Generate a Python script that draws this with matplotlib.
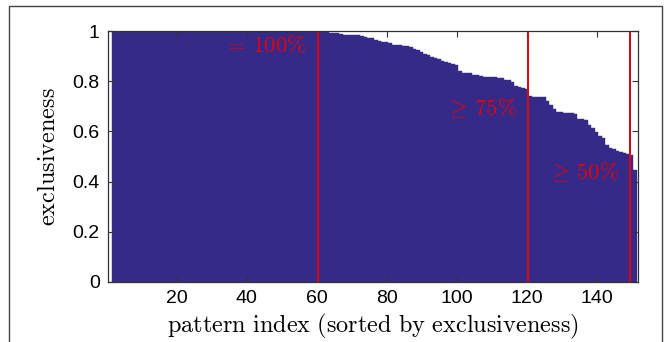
import numpy as np
import matplotlib
matplotlib.use("Agg")
import matplotlib.pyplot as plt
from matplotlib.patches import Rectangle

plt.rcParams['mathtext.fontset'] = 'cm'
plt.rcParams['font.family'] = ['Liberation Sans', 'DejaVu Sans']

# exclusiveness per pattern (sorted), patterns 2..151
first_idx = 2
excl = [1.0] * 59 + [
    0.997, 0.996, 0.995, 0.994, 0.993, 0.992, 0.990,           # 61-67
    0.986, 0.985, 0.984, 0.984, 0.983, 0.982,                  # 68-73
    0.975, 0.973, 0.971, 0.964, 0.962, 0.957, 0.955, 0.951,    # 74-81
    0.946, 0.945, 0.944, 0.942, 0.940, 0.938, 0.930, 0.926,    # 82-89
    0.918, 0.907, 0.905, 0.897, 0.893, 0.890, 0.880, 0.877,    # 90-97
    0.871, 0.867, 0.866, 0.840, 0.831, 0.831, 0.831, 0.825,    # 98-105
    0.823, 0.822, 0.818, 0.817, 0.816, 0.815, 0.814, 0.812,    # 106-113
    0.805, 0.803, 0.795, 0.780, 0.775, 0.772, 0.770,           # 114-120
    0.742, 0.738, 0.738, 0.738, 0.736, 0.720, 0.705, 0.688,    # 121-128
    0.678, 0.676, 0.675, 0.674, 0.672, 0.670, 0.650, 0.648,    # 129-136
    0.646, 0.625, 0.612, 0.597, 0.580, 0.572, 0.546, 0.535,    # 137-144
    0.530, 0.522, 0.518, 0.513, 0.510, 0.506, 0.446,           # 145-151
]
idx = np.arange(first_idx, first_idx + len(excl))

cut_lines = [60.5, 120.5, 149.5]
cut_labels = [r'$=\,100\%$', r'$\geq\,75\%$', r'$\geq\,50\%$']
label_pos = [(57.0, 0.94), (117.2, 0.693), (146.4, 0.438)]

bar_color = '#352a87'
red = '#e00010'

fig = plt.figure(figsize=(6.67, 3.42), dpi=100)
ax = fig.add_axes([108/667, 1-282/342, (638-108)/667, (282-31)/342])

ax.bar(idx, excl, width=1.0, color=bar_color, edgecolor=bar_color, linewidth=0.3)
for xl in cut_lines:
    ax.axvline(xl, color=red, lw=1.4)
for (tx, ty), lab in zip(label_pos, cut_labels):
    ax.text(tx, ty, lab, color=red, fontsize=16.5, ha='right', va='center')

ax.set_xlim(0.4, 151.8)
ax.set_ylim(0, 1)
ax.set_xticks([20, 40, 60, 80, 100, 120, 140])
ax.set_yticks([0, 0.2, 0.4, 0.6, 0.8, 1])
ax.set_yticklabels(['0', '0.2', '0.4', '0.6', '0.8', '1'])
ax.tick_params(direction='in', length=4, top=True, right=True, labelsize=14,
               color='#333333', pad=6)
for s in ax.spines.values():
    s.set_color('#333333')
    s.set_linewidth(0.9)

ax.set_xlabel(r'$\mathrm{pattern\ index\ (sorted\ by\ exclusiveness)}$', fontsize=17.5, labelpad=3)
ax.set_ylabel(r'$\mathrm{exclusiveness}$', fontsize=17.5, labelpad=9)

# outer frame around the figure
fig.patches.append(Rectangle((9/667, -0.1), (662-9)/667, 1.1 - 6/342,
                             transform=fig.transFigure, fill=False,
                             edgecolor='#444444', lw=1.0))

fig.savefig('out.png', dpi=100)
